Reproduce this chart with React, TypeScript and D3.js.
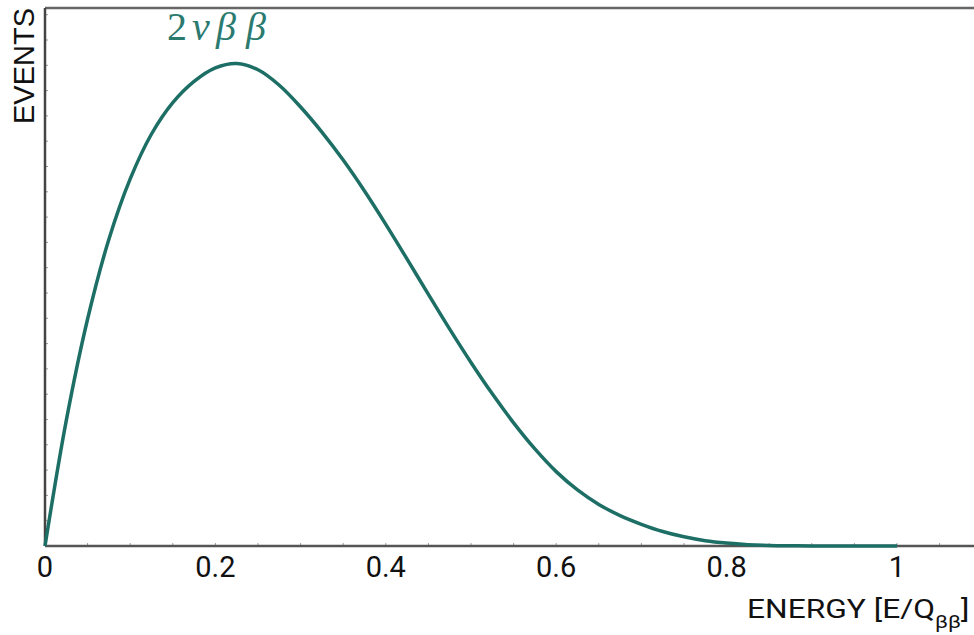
import React, { useEffect, useRef } from "react";
import * as d3 from "d3";

const energy = [0, 0.025, 0.05, 0.075, 0.1, 0.125, 0.15, 0.175, 0.2, 0.225, 0.25, 0.275, 0.3, 0.325, 0.35, 0.375, 0.4, 0.425, 0.45, 0.475, 0.5, 0.525, 0.55, 0.575, 0.6, 0.625, 0.65, 0.675, 0.7, 0.725, 0.75, 0.775, 0.8, 0.825, 0.85, 0.875, 0.9, 0.95, 1.0];
const events = [0, 0.26, 0.47, 0.635, 0.76, 0.853, 0.918, 0.962, 0.99, 0.999, 0.986, 0.954, 0.909, 0.857, 0.799, 0.735, 0.666, 0.594, 0.521, 0.449, 0.38, 0.315, 0.255, 0.201, 0.154, 0.116, 0.086, 0.063, 0.045, 0.03, 0.019, 0.011, 0.006, 0.0028, 0.0011, 0.0004, 0.0001, 0, 0];
const xTicks = [0, 0.2, 0.4, 0.6, 0.8, 1];
const xTickLabels = ["0", "0.2", "0.4", "0.6", "0.8", "1"];

const W = 974, H = 635;
const M = { left: 45, top: 8, right: 0, bottom: 89 };

export default function App() {
  const ref = useRef<SVGSVGElement>(null);
  useEffect(() => {
    const svg = d3.select(ref.current);
    svg.selectAll("*").remove();
    const x = d3.scaleLinear().domain([0, 1]).range([M.left, 897]);
    const y = d3.scaleLinear().domain([0, 1]).range([546, 63]);
    const x0 = M.left, yb = 546, yt = M.top;

    svg.append("rect").attr("width", W).attr("height", H).attr("fill", "#fff");

    // minor ticks
    const yMinor = d3.range(yb, yt, -25.3);
    svg.append("g").selectAll("line").data(yMinor).join("line")
      .attr("x1", x0).attr("x2", x0 + 3).attr("y1", d => d).attr("y2", d => d)
      .attr("stroke", "#999").attr("stroke-width", 1);
    const xMinor = d3.range(0, 1.15, 0.05);
    svg.append("g").selectAll("line").data(xMinor).join("line")
      .attr("x1", d => x(d)).attr("x2", d => x(d)).attr("y1", yb).attr("y2", yb - 3)
      .attr("stroke", "#999").attr("stroke-width", 1);

    // frame
    svg.append("line").attr("x1", x0).attr("x2", W).attr("y1", yt).attr("y2", yt)
      .attr("stroke", "#666").attr("stroke-width", 2.5);
    svg.append("line").attr("x1", x0).attr("x2", x0).attr("y1", yt).attr("y2", yb)
      .attr("stroke", "#444").attr("stroke-width", 2.5);
    svg.append("line").attr("x1", x0).attr("x2", W).attr("y1", yb).attr("y2", yb)
      .attr("stroke", "#555").attr("stroke-width", 2.5);

    // curve
    const pts = energy.map((e, i) => [e, events[i]] as [number, number]);
    const line = d3.line<[number, number]>().x(d => x(d[0])).y(d => y(d[1])).curve(d3.curveCatmullRom.alpha(0.5));
    svg.append("path").attr("d", line(pts)!).attr("fill", "none")
      .attr("stroke", "#1d6f66").attr("stroke-width", 3.5).attr("stroke-linejoin", "round");

    // x tick labels
    svg.append("g").selectAll("text").data(xTicks).join("text")
      .attr("x", d => x(d)).attr("y", 577).attr("text-anchor", "middle")
      .attr("font-family", "Roboto, Liberation Sans, Arial, sans-serif").attr("font-size", 29)
      .attr("fill", "#111").text((d, i) => xTickLabels[i]);

    // y label
    svg.append("text").attr("transform", `translate(34,66) rotate(-90)`)
      .attr("text-anchor", "middle").attr("font-family", "Liberation Sans, Arial, sans-serif")
      .attr("font-size", 29).attr("fill", "#111").text("EVENTS");

    // x label (horizontally stretched as in the reference)
    const xl = svg.append("text").attr("transform", "translate(747,618) scale(1.22,1)")
      .attr("font-family", "Roboto, Liberation Sans, Arial, sans-serif").attr("font-size", 26).attr("fill", "#111");
    xl.append("tspan").text("ENERGY [E/Q");
    xl.append("tspan").attr("font-size", 18).attr("dy", 10).text("ββ");
    xl.append("tspan").attr("dy", -10).text("]");

    // annotation
    const an = svg.append("text").attr("y", 40)
      .attr("font-family", "Liberation Serif, DejaVu Serif, serif").attr("font-size", 40).attr("fill", "#2b7a6f");
    an.append("tspan").attr("x", 167).text("2");
    an.append("tspan").attr("x", 192).attr("font-style", "italic").text("ν");
    an.append("tspan").attr("x", 216).attr("font-style", "italic").text("β");
    an.append("tspan").attr("x", 246).attr("font-style", "italic").text("β");
  }, []);
  return <svg ref={ref} width={W} height={H} style={{ position: "absolute", left: 0, top: 0 }} />;
}
